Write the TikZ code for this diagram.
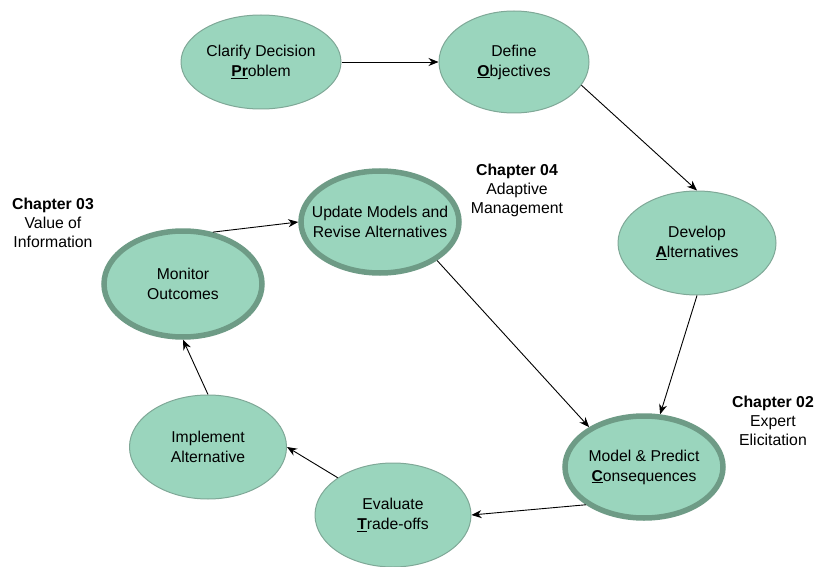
\documentclass[tikz,border=0pt]{standalone}
\usepackage{fontspec}
\setmainfont{Liberation Sans}
\usetikzlibrary{arrows.meta,shapes.geometric}
\definecolor{nodefill}{HTML}{9AD5BD}
\definecolor{thinedge}{HTML}{7FA897}
\definecolor{thickedge}{HTML}{6E9B86}
\tikzset{
  stage/.style={ellipse, draw=thinedge, line width=1pt, fill=nodefill, inner sep=-40pt, font=\fontsize{15.7pt}{20pt}\selectfont, align=center},
  keystage/.style={stage, draw=thickedge, line width=5.5pt},
  flow/.style={-{Stealth[length=10pt,width=8pt]}, line width=0.9pt, black},
  chap/.style={font=\fontsize{15.8pt}{19pt}\selectfont, align=center, inner sep=0pt}
}
\begin{document}
\begin{tikzpicture}[x=1pt,y=-1pt]
\useasboundingbox (0,0) rectangle (814,567);
\node[stage, minimum width=160pt, minimum height=94pt] (clarify) at (261,62) {Clarify Decision\\\underline{\textbf{Pr}}oblem};
\node[stage, minimum width=150pt, minimum height=102pt] (define) at (514,62) {Define\\\underline{\textbf{O}}bjectives};
\node[stage, minimum width=158pt, minimum height=104pt] (develop) at (697,243) {Develop\\\underline{\textbf{A}}lternatives};
\node[keystage, minimum width=158pt, minimum height=102pt] (model) at (644,467) {Model \& Predict\\\underline{\textbf{C}}onsequences};
\node[stage, minimum width=156pt, minimum height=104pt] (evaluate) at (393,515) {Evaluate\\\underline{\textbf{T}}rade-offs};
\node[stage, minimum width=157pt, minimum height=104pt] (implement) at (208,447) {Implement\\Alternative};
\node[keystage, minimum width=158pt, minimum height=106pt] (monitor) at (183,284) {Monitor\\Outcomes};
\node[keystage, minimum width=158pt, minimum height=102pt] (update) at (380,222) {Update Models and\\Revise Alternatives};

\node[chap] (ch04) at (517,190) {\textbf{Chapter 04}\\Adaptive\\Management};
\node[chap] (ch03) at (53,223) {\textbf{Chapter 03}\\Value of\\Information};
\node[chap] (ch02) at (773,421) {\textbf{Chapter 02}\\Expert\\Elicitation};

\draw[flow] (clarify.east) -- (define.west);
\draw[flow] (define.-19) -- (develop.north);
\draw[flow] (develop.south) -- (model.73);
\draw[flow] (model.213) -- (evaluate.east);
\draw[flow] (evaluate.146) -- (implement.east);
\draw[flow] (implement.north) -- (monitor.south);
\draw[flow] (monitor.60) -- (update.west);
\draw[flow] (update.-34) -- (model.144);
\end{tikzpicture}
\end{document}
